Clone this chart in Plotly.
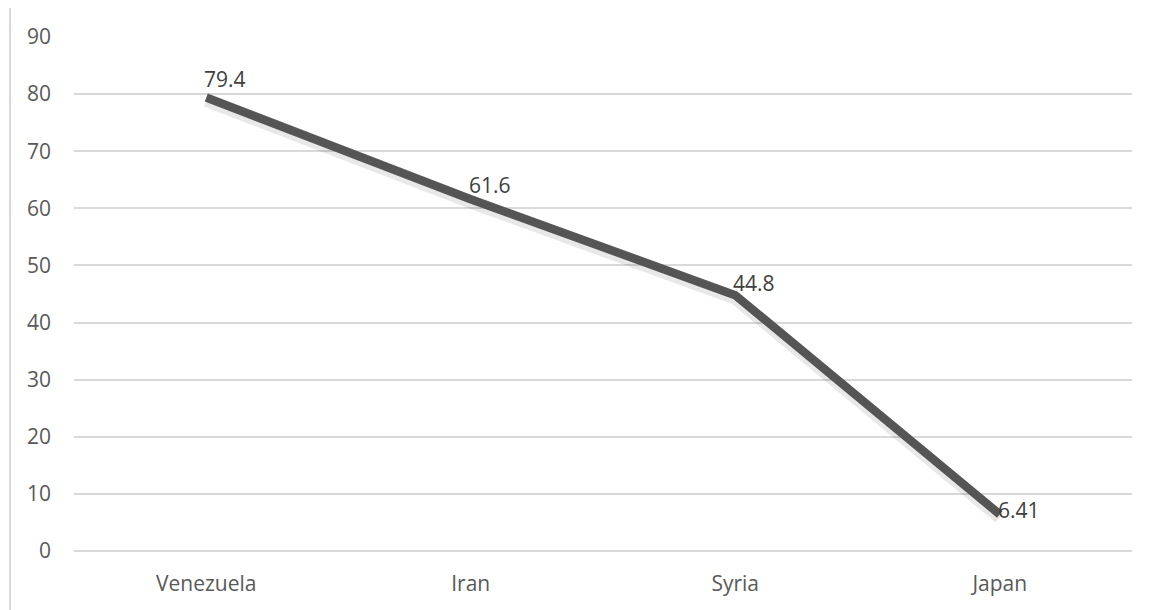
import plotly.graph_objects as go

countries = ["Venezuela", "Iran", "Syria", "Japan"]
values = [79.4, 61.6, 44.8, 6.41]
value_labels = ["79.4", "61.6", "44.8", "6.41"]
label_lift = [19, 14, 12, 4]   # vertical offset of each value label, px

W, H = 1161, 610
ml, mr, mt, mb = 74, 29, 37, 59
FONT = "Open Sans"

fig = go.Figure()

# soft drop shadow: same series on an overlaid axis shifted a few pixels down
fig.add_trace(go.Scatter(
    x=countries, y=values, mode="lines", yaxis="y2",
    line=dict(color="rgba(0,0,0,0.09)", width=13),
    hoverinfo="skip", showlegend=False,
))
fig.add_trace(go.Scatter(
    x=countries, y=values, mode="lines",
    line=dict(color="#5e5e5e", width=8.5),
    showlegend=False,
))

for c, v, t, dy in zip(countries, values, value_labels, label_lift):
    fig.add_annotation(
        x=c, y=v, text=t, showarrow=False,
        xanchor="left", yanchor="middle", xshift=-4, yshift=dy,
        font=dict(family=FONT, size=21, color="#404040"),
    )

plot_h = H - mt - mb
shift = 3 * 90 / plot_h

fig.update_layout(
    width=W, height=H,
    margin=dict(l=ml, r=mr, t=mt, b=mb),
    paper_bgcolor="white", plot_bgcolor="white",
    xaxis=dict(
        range=[-0.5, 3.5], showgrid=False, zeroline=False, showline=False,
        ticks="", ticklabelstandoff=18,
        tickfont=dict(family=FONT, size=21, color="#595959"),
    ),
    yaxis=dict(
        range=[0, 90], dtick=10, showgrid=True, gridcolor="#d9d9d9", gridwidth=1.5,
        zeroline=True, zerolinecolor="#d9d9d9", zerolinewidth=1.5,
        showline=False, ticks="", ticklabelstandoff=22,
        tickfont=dict(family=FONT, size=21, color="#595959"),
    ),
    yaxis2=dict(
        range=[0 + shift, 90 + shift], overlaying="y", visible=False,
    ),
    shapes=[
        dict(type="line", xref="paper", yref="paper",
             x0=(10 - ml) / (W - ml - mr), x1=(10 - ml) / (W - ml - mr),
             y0=(H - mb - 8) / plot_h, y1=(H - mb - H) / plot_h,
             line=dict(color="#d9d9d9", width=2)),
    ],
)

fig.write_html("out.html")
